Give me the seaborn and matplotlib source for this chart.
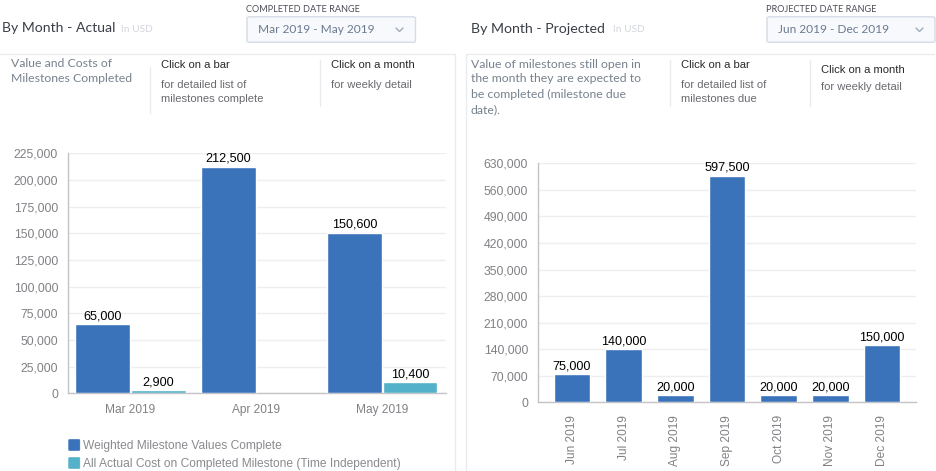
import matplotlib
matplotlib.use("Agg")
import matplotlib.pyplot as plt
from matplotlib.patches import FancyBboxPatch
from matplotlib.lines import Line2D
import pandas as pd
import seaborn as sns

sns.set_theme(style="white")
W, H = 937, 471
HELV = "Liberation Sans"
HEAD = "Lato"

# Data
actual_months = ["Mar 2019", "Apr 2019", "May 2019"]
weighted_values = [65000, 212500, 150600]
actual_costs = [2900, None, 10400]
actual_ticks = [0, 25000, 50000, 75000, 100000, 125000, 150000, 175000, 200000, 225000]
series_names = ["Weighted Milestone Values Complete",
                "All Actual Cost on Completed Milestone (Time Independent)"]
proj_months = ["Jun 2019", "Jul 2019", "Aug 2019", "Sep 2019", "Oct 2019", "Nov 2019", "Dec 2019"]
proj_values = [75000, 140000, 20000, 597500, 20000, 20000, 150000]
proj_ticks = [0, 70000, 140000, 210000, 280000, 350000, 420000, 490000, 560000, 630000]

BLUE = "#3B73BB"
TEAL = "#53B1C9"
GRID = "#EEEEF0"
AXIS = "#C4C4C8"
TICK = "#808185"

fig = plt.figure(figsize=(W / 100, H / 100), dpi=100, facecolor="white")


def add_axes(x0, x1, ytop, ybot):
    return fig.add_axes([x0 / W, 1 - ybot / H, (x1 - x0) / W, (ybot - ytop) / H])


def txt(x, y, s, size, color, family=HELV, **kw):
    kw.setdefault("va", "center")
    fig.text(x / W, 1 - y / H, s, fontsize=size, color=color, family=family, **kw)


def style(ax, ticks, xrot, xpad):
    ax.set_ylim(ticks[0], ticks[-1])
    ax.set_yticks(ticks)
    ax.set_yticklabels([f"{t:,}" for t in ticks])
    ax.set_xlabel("")
    ax.set_ylabel("")
    ax.set_axisbelow(True)
    ax.grid(axis="y", color=GRID, lw=1)
    ax.grid(axis="x", visible=False)
    for s in ["top", "right"]:
        ax.spines[s].set_visible(False)
    for s in ["left", "bottom"]:
        ax.spines[s].set_color(AXIS)
        ax.spines[s].set_linewidth(1)
        ax.spines[s].set_zorder(0.7)
    ax.tick_params(axis="y", length=4.3, width=0.8, color=AXIS, labelsize=8.8, labelcolor=TICK,
                   labelfontfamily=HELV, pad=3)
    ax.tick_params(axis="x", length=0, labelsize=8.55, labelcolor=TICK,
                   labelfontfamily=HELV, pad=xpad, rotation=xrot)


def label_bars(ax):
    for cont in ax.containers:
        for rect in cont:
            h = rect.get_height()
            if h == h and h > 0:
                ax.annotate(f"{int(h):,}", (rect.get_x() + rect.get_width() / 2, h),
                            xytext=(0, 1.2), textcoords="offset points", ha="center", va="bottom",
                            fontsize=9.1, color="black", family=HELV, clip_on=False)


# Left chart
ax1 = add_axes(68.3, 446, 153.3, 393.3)
left = pd.DataFrame({
    "month": actual_months * 2,
    "value": weighted_values + actual_costs,
    "series": [series_names[0]] * 3 + [series_names[1]] * 3,
})
sns.barplot(data=left, x="month", y="value", hue="series", hue_order=series_names,
            palette=[BLUE, TEAL], width=0.88, gap=0.012, saturation=1, legend=False, ax=ax1)
ax1.set_xlim(-0.493, 2.505)
style(ax1, actual_ticks, 0, 8)
label_bars(ax1)

# Right chart
ax2 = add_axes(538.3, 916, 163.3, 402.3)
right = pd.DataFrame({"month": proj_months, "value": proj_values})
sns.barplot(data=right, x="month", y="value", color=BLUE, width=0.705, saturation=1, ax=ax2)
ax2.set_xlim(-0.5 - 0.149, 6.5 + 0.155)
style(ax2, proj_ticks, 90, 9)
label_bars(ax2)

# Legend (real text with swatches)
for y, c, s in [(445, BLUE, series_names[0]), (463, TEAL, series_names[1])]:
    fig.add_artist(FancyBboxPatch((68.5 / W, 1 - (y + 5.7) / H), 11.4 / W, 11.4 / H,
                                  boxstyle="round,pad=0,rounding_size=0.002", transform=fig.transFigure,
                                  fc=c, ec=c, lw=0.3))
    txt(83, y + 1, s, 8.62, "#8A8B8F")

# Panel furniture
PANEL = "#E9EBEF"
for (xa, ya), (xb, yb) in [((0, 53.5), (455.5, 53.5)), ((455.5, 53.5), (455.5, 471)),
                           ((466.5, 53.5), (934, 53.5)), ((466.5, 53.5), (466.5, 471)),
                           ((150.5, 67), (150.5, 113)), ((320.5, 60), (320.5, 106)),
                           ((670.5, 60), (670.5, 106)), ((810.5, 60), (810.5, 106))]:
    fig.add_artist(Line2D([xa / W, xb / W], [1 - ya / H, 1 - yb / H], color=PANEL, lw=1))

# Titles
txt(2, 28, "By Month - Actual", 10.1, "#3A3F47", HEAD)
txt(121.5, 29.5, "In USD", 7.3, "#D2D5DA", HEAD)
txt(471, 29, "By Month - Projected", 10.2, "#3A3F47", HEAD)
txt(613, 29.5, "In USD", 7.3, "#D2D5DA", HEAD)

# Date range selectors
for x, w, lab, head, hx in [(247, 168.5, "Mar 2019 - May 2019", "COMPLETED DATE RANGE", 246),
                            (767, 168, "Jun 2019 - Dec 2019", "PROJECTED DATE RANGE", 766.3)]:
    fig.add_artist(FancyBboxPatch((x / W, 1 - 42.3 / H), w / W, 25.5 / H,
                                  boxstyle="round,pad=0,rounding_size=0.003", transform=fig.transFigure,
                                  fc="#F7F9FC", ec="#D5DCE6", lw=1))
    txt(hx, 9, head, 6.6, "#4A4D55", HEAD)
    txt(x + 11, 29.5, lab, 8.55, "#6A7A90", HEAD)
    cx = x + 152.5
    fig.add_artist(Line2D([(cx - 3.5) / W, cx / W, (cx + 3.5) / W], [1 - 28 / H, 1 - 31.5 / H, 1 - 28 / H],
                          color="#A0ACBA", lw=1))

# Descriptions
DESC = "#77828F"
for x, y, s in [(11, 63.5, "Value and Costs of"), (11, 79, "Milestones Completed"),
                (471, 64, "Value of milestones still open in"),
                (471, 79, "the month they are expected to"),
                (471, 94, "be completed (milestone due"), (471, 109.5, "date).")]:
    txt(x, y, s, 8.8, DESC, HEAD)

INK = "#2A2A2E"
SUB = "#6A6A70"
for x, y, s, c in [(161, 65, "Click on a bar", INK), (161, 85, "for detailed list of", SUB),
                   (161, 99, "milestones complete", SUB),
                   (331, 65, "Click on a month", INK), (331, 85, "for weekly detail", SUB),
                   (681, 65, "Click on a bar", INK), (681, 85, "for detailed list of", SUB),
                   (681, 99, "milestones due", SUB),
                   (821, 70, "Click on a month", INK), (821, 87, "for weekly detail", SUB)]:
    txt(x, y, s, 8.15, c)

fig.savefig("out.png", dpi=100, facecolor="white")
